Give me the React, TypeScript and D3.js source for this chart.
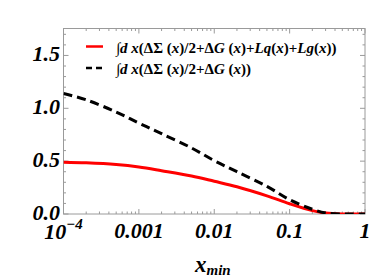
import React from "react";
import * as d3 from "d3";

const xValues = [1e-4, 2e-4, 5e-4, 1e-3, 2e-3, 5e-3, 0.01, 0.02, 0.05, 0.1, 0.2, 0.3, 0.5, 0.7, 1];
const redValues = [0.49, 0.484, 0.468, 0.445, 0.41, 0.36, 0.31, 0.258, 0.172, 0.097, 0.032, 0.009, 0.0, 0.0, 0.0];
const blackValues = [1.14, 1.08, 0.965, 0.86, 0.76, 0.625, 0.505, 0.4, 0.262, 0.135, 0.045, 0.01, 0.0, 0.0, 0.0];
const xTicks = [1e-4, 1e-3, 1e-2, 1e-1, 1];
const xTickLabels = ["10^-4", "0.001", "0.01", "0.1", "1"];
const yTicks = [0, 0.5, 1.0, 1.5];
const yTickLabels = ["0.0", "0.5", "1.0", "1.5"];

const W = 371, H = 278;
const L = 63.5, R = 365, T = 28.5, B = 214;
const SERIF = "'Liberation Serif', 'Times New Roman', 'DejaVu Serif', serif";

export default function App() {
  const x = d3.scaleLog().domain([1e-4, 1]).range([L, R]);
  const y = d3.scaleLinear().domain([0, 1.755]).range([B, T]);
  const line = d3.line<number>()
    .x((_, i) => x(xValues[i]))
    .y((d) => y(d))
    .curve(d3.curveCatmullRom.alpha(0.5));

  const minorX: number[] = [];
  for (let k = -4; k < 0; k++) for (let m = 2; m <= 9; m++) minorX.push(m * Math.pow(10, k));
  const minorY: number[] = [];
  for (let v = 0.1; v < 1.75; v += 0.1) {
    const r = Math.round(v * 10) / 10;
    if (Math.abs(r * 2 - Math.round(r * 2)) > 1e-6) minorY.push(r);
  }
  const frame = "#9a9a9a";
  const tickStyle: React.CSSProperties = { fontFamily: SERIF, fontWeight: "bold", fontStyle: "italic" };
  const lf: React.CSSProperties = { fontFamily: SERIF, fontWeight: "bold", fontSize: 15 };
  const it: React.CSSProperties = { fontStyle: "italic" };

  return (
    <svg width={W} height={H} style={{ position: "absolute", left: 0, top: 0, background: "#fff" }}>
      <defs>
        <clipPath id="clip">
          <rect x={L} y={T - 5} width={R - L} height={B - T + 5} />
        </clipPath>
      </defs>
      <rect x={L} y={T} width={R - L} height={B - T} fill="none" stroke={frame} strokeWidth={1} />
      {xTicks.map((t, i) => (
        <g key={"xt" + i}>
          <line x1={x(t)} x2={x(t)} y1={B} y2={B - 5} stroke={frame} />
          <line x1={x(t)} x2={x(t)} y1={T} y2={T + 5} stroke={frame} />
        </g>
      ))}
      {minorX.map((t, i) => (
        <g key={"xm" + i}>
          <line x1={x(t)} x2={x(t)} y1={B} y2={B - 2.5} stroke={frame} />
          <line x1={x(t)} x2={x(t)} y1={T} y2={T + 2.5} stroke={frame} />
        </g>
      ))}
      {yTicks.map((t, i) => (
        <g key={"yt" + i}>
          <line x1={L} x2={L + 5} y1={y(t)} y2={y(t)} stroke={frame} />
          <line x1={R} x2={R - 5} y1={y(t)} y2={y(t)} stroke={frame} />
        </g>
      ))}
      {minorY.map((t, i) => (
        <g key={"ym" + i}>
          <line x1={L} x2={L + 2.5} y1={y(t)} y2={y(t)} stroke={frame} />
          <line x1={R} x2={R - 2.5} y1={y(t)} y2={y(t)} stroke={frame} />
        </g>
      ))}
      <g clipPath="url(#clip)">
        <path d={line(redValues) || ""} fill="none" stroke="#ff0000" strokeWidth={3} />
        <path d={line(blackValues) || ""} fill="none" stroke="#000" strokeWidth={3} strokeDasharray="9,5" />
      </g>
      {yTicks.map((t, i) => (
        <text key={"yl" + i} x={60} y={y(t) + 6} textAnchor="end" style={{ ...tickStyle, fontSize: 22 }}>
          {yTickLabels[i]}
        </text>
      ))}
      {xTicks.map((t, i) => {
        const lab = xTickLabels[i];
        if (lab.startsWith("10^")) {
          return (
            <text key={"xl" + i} x={x(t)} y={239} textAnchor="middle" style={{ ...tickStyle, fontSize: 22 }}>
              10<tspan dy={-10} style={{ fontSize: 15 }}>{"\u2212" + lab.slice(4)}</tspan>
            </text>
          );
        }
        return (
          <text key={"xl" + i} x={x(t)} y={238} textAnchor="middle" style={{ ...tickStyle, fontSize: 22 }}>
            {lab}
          </text>
        );
      })}
      <text x={195} y={272} style={{ ...tickStyle, fontSize: 23 }}>
        x<tspan dy={3} style={{ fontSize: 15 }}>min</tspan>
      </text>
      <line x1={86} x2={103} y1={46.5} y2={46.5} stroke="#ff0000" strokeWidth={2.5} />
      <line x1={86} x2={104} y1={68} y2={68} stroke="#000" strokeWidth={2.5} strokeDasharray="6,4" />
      <text x={116} y={52.5} style={lf}>
        {"\u222B"}<tspan style={it}>d x</tspan>(ΔΣ (<tspan style={it}>x</tspan>)/2+Δ<tspan style={it}>G</tspan> (<tspan style={it}>x</tspan>)+<tspan style={it}>Lq</tspan>(<tspan style={it}>x</tspan>)+<tspan style={it}>Lg</tspan>(<tspan style={it}>x</tspan>))
      </text>
      <text x={116} y={73.5} style={lf}>
        {"\u222B"}<tspan style={it}>d x</tspan>(ΔΣ (<tspan style={it}>x</tspan>)/2+Δ<tspan style={it}>G</tspan> (<tspan style={it}>x</tspan>))
      </text>
    </svg>
  );
}
